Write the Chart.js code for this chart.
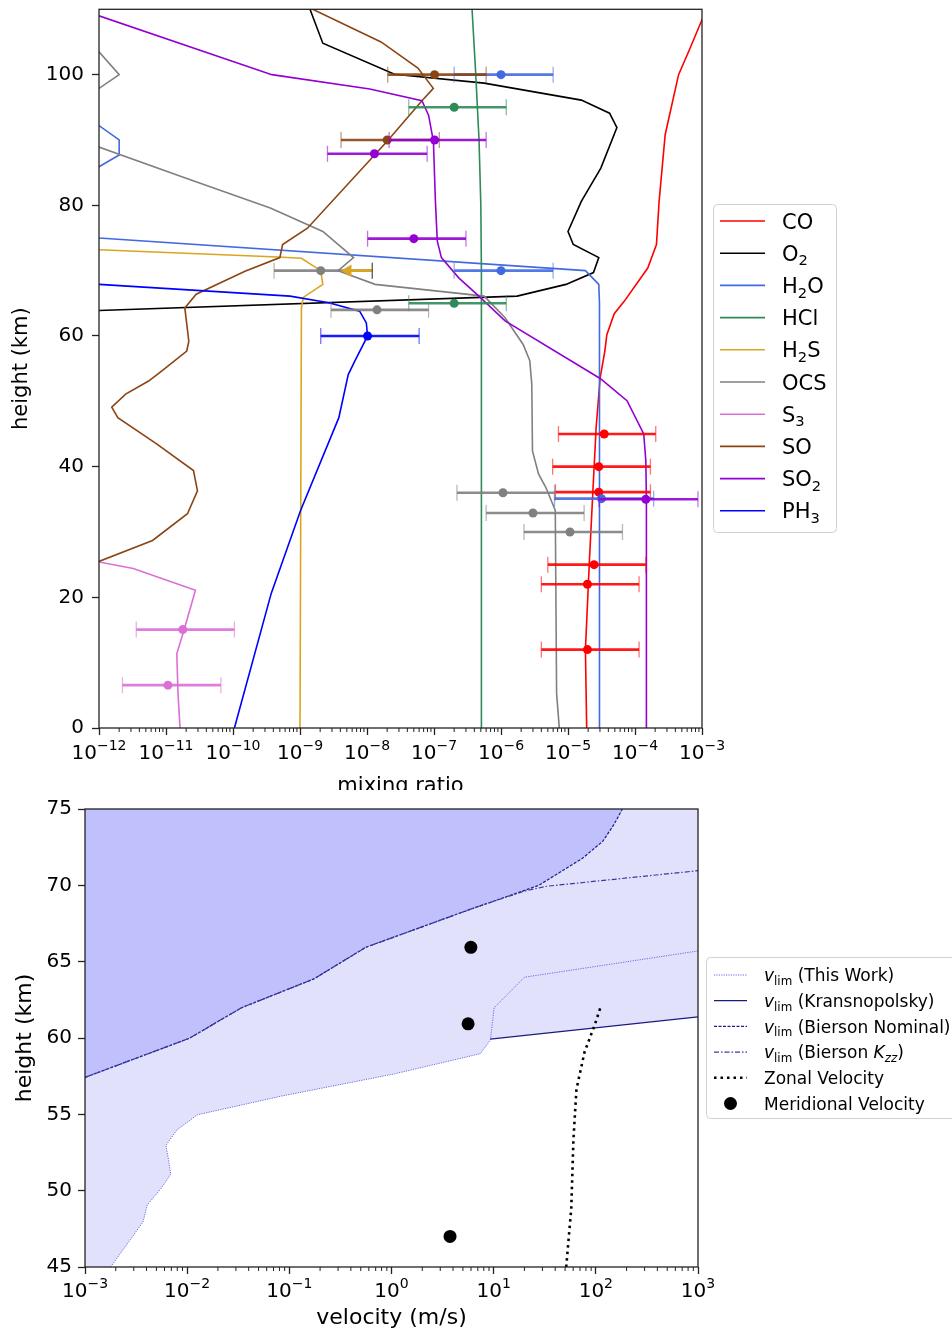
<!DOCTYPE html>
<html>
<head>
<meta charset="utf-8">
<script src="https://cdn.jsdelivr.net/npm/chart.js@4.4.0/dist/chart.umd.min.js"></script>
<style>
html, body { margin: 0; padding: 0; background: #fff; }
#top { position: absolute; left: 0; top: 0; width: 952px; height: 790px; }
#bot { position: absolute; left: 0; top: 790px; width: 952px; height: 543px; }
</style>
</head>
<body>
<div id="top"><canvas id="mixChart"></canvas></div>
<div id="bot"><canvas id="velChart"></canvas></div>
<script>
// ---------- panel 1: mixing ratio profiles ----------
var mixTickValues = [1e-12, 1e-11, 1e-10, 1e-9, 1e-8, 1e-7, 1e-6, 1e-5, 1e-4, 1e-3];
var mixTickExps = ['−12', '−11', '−10', '−9', '−8', '−7', '−6', '−5', '−4', '−3'];
var mixHeightTicks = [0, 20, 40, 60, 80, 100];

var coHeight = [0, 12, 25.7, 35.8, 46, 53.6, 57.7, 60.2, 63.4, 65.3, 70.4, 74, 80.6, 90.8, 100, 103.5, 108.4, 111];
var coMix = [1.9e-5, 1.82e-5, 2.09e-5, 2.34e-5, 2.63e-5, 3.02e-5, 3.55e-5, 3.8e-5, 4.9e-5, 6.9e-5, 1.55e-4, 2.09e-4, 2.29e-4, 2.82e-4, 4.47e-4, 6.3e-4, 1e-3, 1.3e-3];

var o2Height = [111, 110, 104.8, 100.05, 98.7, 96.1, 94.1, 91.9, 85.7, 80.6, 76, 74, 72, 69.7, 67.9, 66.1, 63.9, 63.7];
var o2Mix = [1.3e-9, 1.41e-9, 2.19e-9, 2.57e-8, 5.6e-7, 1.58e-5, 4.17e-5, 5.37e-5, 3.09e-5, 1.58e-5, 1e-5, 1.2e-5, 2.88e-5, 2.4e-5, 9.33e-6, 1.74e-6, 1e-12, 3e-13];

var h2oHeight = [97, 94, 92.2, 90, 87.7, 85.9, 84, 76, 75, 70, 67.9, 65, 0];
var h2oMix = [1e-13, 5e-13, 1e-12, 2e-12, 2e-12, 1e-12, 5e-13, 1e-13, 1e-12, 1.82e-5, 2.88e-5, 2.95e-5, 2.95e-5];

var hclHeight = [110, 100, 90, 80, 70, 0];
var hclMix = [3.7e-7, 4.2e-7, 4.7e-7, 5.0e-7, 5.1e-7, 5.1e-7];

var h2sHeight = [73.4, 73.2, 72.1, 71.9, 70, 67.9, 65.9, 64.3, 0];
var h2sMix = [3e-13, 1e-12, 4.7e-10, 1.05e-9, 2.04e-9, 2.19e-9, 1.12e-9, 1.05e-9, 1.0e-9];

var ocsHeight = [107, 103.5, 100, 97.9, 94.5, 94, 90, 88.9, 84.2, 79.6, 76, 72, 70, 67.9, 66.1, 62.8, 58.7, 56.2, 52.6, 42.4, 38.9, 36.8, 33.3, 5.3, 0];
var ocsMix = [5e-13, 1e-12, 2e-12, 1e-12, 5e-13, 1e-13, 1e-13, 1e-12, 1.9e-11, 3.6e-10, 2.19e-9, 6.3e-9, 3.7e-9, 1.32e-8, 5.6e-7, 1.15e-6, 2.14e-6, 2.69e-6, 2.88e-6, 2.95e-6, 3.63e-6, 4.68e-6, 6.46e-6, 6.76e-6, 7.41e-6];

var s3Height = [26.4, 25.4, 24.4, 21.1, 15, 11.4, 5.3, 0];
var s3Mix = [3e-13, 1e-12, 3.24e-12, 2.75e-11, 1.86e-11, 1.45e-11, 1.51e-11, 1.62e-11];

var soHeight = [110.5, 110, 105, 101, 97.9, 96, 89.8, 76.5, 74, 72, 69.9, 66.4, 64.3, 59.2, 57.7, 54.6, 53.1, 51.1, 49.1, 47.5, 43.5, 39.4, 36.3, 32.8, 28.7, 25.5, 25.1];
var soMix = [1.35e-9, 1.55e-9, 1.62e-8, 5.75e-8, 9.77e-8, 6.61e-8, 2.0e-8, 1.29e-9, 5.5e-10, 5.0e-10, 1.51e-10, 2.82e-11, 1.91e-11, 2.19e-11, 2.04e-11, 8.5e-12, 5.5e-12, 2.5e-12, 1.55e-12, 1.91e-12, 7.24e-12, 2.57e-11, 2.95e-11, 2.09e-11, 6.3e-12, 1e-12, 4e-13];

var so2Height = [110.7, 109, 100, 97.8, 96, 93.8, 89.8, 80.6, 74.5, 72, 68.9, 65.9, 62.3, 53.5, 50.1, 45, 40.9, 35, 0];
var so2Mix = [3e-13, 1e-12, 3.8e-10, 1.1e-8, 6.6e-8, 8.3e-8, 9.8e-8, 1.05e-7, 1.12e-7, 1.29e-7, 2.34e-7, 4.9e-7, 1.15e-6, 3.02e-5, 7.6e-5, 1.35e-4, 1.45e-4, 1.48e-4, 1.48e-4];

var ph3Height = [68.2, 67.9, 66.1, 65.1, 63.8, 62, 60, 56.2, 54.1, 47.5, 33.3, 20.6, 0];
var ph3Mix = [3e-13, 1e-12, 7.1e-10, 2.69e-9, 7.76e-9, 9.77e-9, 1.02e-8, 6.6e-9, 5.25e-9, 3.8e-9, 1.02e-9, 3.72e-10, 1.05e-10];

// observations: centre, lower and upper end of each bar
var coObsHeight = [45, 40, 36.1, 25, 22, 12];
var coObsMix = [3.47e-5, 2.88e-5, 2.88e-5, 2.45e-5, 1.95e-5, 1.95e-5];
var coObsLow = [7.2e-6, 5.9e-6, 6.5e-6, 5.0e-6, 4.0e-6, 4.0e-6];
var coObsHigh = [2.04e-4, 1.7e-4, 1.7e-4, 1.45e-4, 1.15e-4, 1.15e-4];

var h2oObsHeight = [100, 70, 35.1];
var h2oObsMix = [1e-6, 1e-6, 3.16e-5];
var h2oObsLow = [2.0e-7, 2.0e-7, 6.3e-6];
var h2oObsHigh = [6.0e-6, 6.0e-6, 1.9e-4];

var hclObsHeight = [95, 65];
var hclObsMix = [2.0e-7, 2.0e-7];
var hclObsLow = [4.2e-8, 4.2e-8];
var hclObsHigh = [1.2e-6, 1.2e-6];

var ocsObsHeight = [70, 64, 36, 32.9, 30];
var ocsObsMix = [2.04e-9, 1.41e-8, 1.07e-6, 3.0e-6, 1.07e-5];
var ocsObsLow = [4.1e-10, 2.9e-9, 2.2e-7, 6.0e-7, 2.2e-6];
var ocsObsHigh = [1.2e-8, 8.3e-8, 6.3e-6, 1.74e-5, 6.5e-5];

var s3ObsHeight = [15.06, 6.56];
var s3ObsMix = [1.78e-11, 1.07e-11];
var s3ObsLow = [3.6e-12, 2.24e-12];
var s3ObsHigh = [1.05e-10, 6.6e-11];

var soObsHeight = [100, 90];
var soObsMix = [1.02e-7, 2.0e-8];
var soObsLow = [2.04e-8, 4.1e-9];
var soObsHigh = [6.0e-7, 1.2e-7];

var so2ObsHeight = [90, 87.9, 74.9, 35];
var so2ObsMix = [1.02e-7, 1.29e-8, 5.0e-8, 1.45e-4];
var so2ObsLow = [2.14e-8, 2.57e-9, 1.02e-8, 2.9e-5];
var so2ObsHigh = [6.0e-7, 7.9e-8, 3.0e-7, 8.7e-4];

var ph3ObsHeight = [60];
var ph3ObsMix = [1.02e-8];
var ph3ObsLow = [2.04e-9];
var ph3ObsHigh = [6.0e-8];

// H2S upper limit (arrow)
var h2sLimitHeight = [70];
var h2sLimitFrom = [1.2e-8];
var h2sLimitTo = [5.2e-9];

// ---------- panel 2: velocities ----------
var velTickValues = [1e-3, 1e-2, 1e-1, 1e0, 1e1, 1e2, 1e3];
var velTickExps = ['−3', '−2', '−1', '0', '1', '2', '3'];
var velHeightTicks = [45, 50, 55, 60, 65, 70, 75];

var thisWorkVel = [1.78e-3, 3.7e-3, 4.07e-3, 5.6e-3, 6.9e-3, 6.6e-3, 6.2e-3, 7.9e-3, 0.0126, 0.083, 1.05, 7.4, 9.3, 10.1, 20, 1000];
var thisWorkHt = [45, 47.96, 49.07, 50.18, 51.07, 51.96, 52.97, 53.97, 54.97, 56.19, 57.64, 58.97, 59.87, 61.98, 63.98, 65.7];

var krasVel = [9.25, 1000];
var krasHt = [59.93, 61.38];

var nominalVel = [1e-3, 0.0105, 0.034, 0.174, 0.56, 6.2, 27.5, 74, 117, 151, 182];
var nominalHt = [57.42, 59.98, 61.98, 63.87, 65.94, 68.48, 69.99, 71.77, 72.89, 74.0, 75];

var kzzVel = [1e-3, 0.0105, 0.034, 0.174, 0.56, 6.2, 19.5, 33, 1000];
var kzzHt = [57.42, 59.98, 61.98, 63.87, 65.94, 68.48, 69.6, 69.94, 70.96];

var zonalVel = [51.3, 57.5, 60.3, 64.6, 77.6, 97.7, 112];
var zonalHt = [45, 48.85, 53.3, 56.64, 59.09, 60.87, 62.09];

var meridVel = [5.98, 5.62, 3.74];
var meridHt = [65.94, 60.93, 47.0];

Chart.defaults.font.family = '"DejaVu Sans", sans-serif';
Chart.defaults.color = '#000';

function pts(h, v) {
    return h.map(function(y, i) { return {x: v[i], y: y}; });
}

function barPts(h, lo, hi) {
    var d = [];
    h.forEach(function(y, i) {
        d.push({x: lo[i], y: y}, {x: hi[i], y: y}, {x: NaN, y: NaN});
    });
    return d;
}

function fade(hex, a) {
    var n = parseInt(hex.slice(1), 16);
    return 'rgba(' + (n >> 16) + ',' + ((n >> 8) & 255) + ',' + (n & 255) + ',' + a + ')';
}

function styleFont(style, size) {
    var small = style.indexOf('sub') >= 0 || style === 'sup';
    return (style.charAt(0) === 'i' ? 'italic ' : '') + (small ? size * 0.7 : size) + 'px "DejaVu Sans"';
}

// text with sub/superscript pieces, y is the baseline
function drawRich(ctx, parts, x, y, size, align) {
    var w = 0;
    parts.forEach(function(p) { ctx.font = styleFont(p[1], size); w += ctx.measureText(p[0]).width; });
    var cx = align === 'center' ? x - w / 2 : x;
    ctx.textAlign = 'left';
    ctx.textBaseline = 'alphabetic';
    parts.forEach(function(p) {
        ctx.font = styleFont(p[1], size);
        var dy = p[1].indexOf('sub') >= 0 ? 0.22 * size : (p[1] === 'sup' ? -0.45 * size : 0);
        ctx.fillText(p[0], cx, y + dy);
        cx += ctx.measureText(p[0]).width;
    });
}

function roundRect(ctx, x, y, w, h, r) {
    ctx.beginPath();
    ctx.moveTo(x + r, y);
    ctx.arcTo(x + w, y, x + w, y + h, r);
    ctx.arcTo(x + w, y + h, x, y + h, r);
    ctx.arcTo(x, y + h, x, y, r);
    ctx.arcTo(x, y, x + w, y, r);
    ctx.closePath();
}

// y axis: fixed width and no extra label room above/below the plot
function fixY(width) {
    return function(s) { s.width = width; s.paddingTop = 0; s.paddingBottom = 0; };
}

// spines, minor ticks, x labels with exponents and the framed legend
var framePlugin = {
    id: 'frame',
    afterDraw: function(chart, args, o) {
        var ctx = chart.ctx, a = chart.chartArea, xs = chart.scales.x;
        ctx.save();
        ctx.strokeStyle = '#222';
        ctx.lineWidth = 1;
        var d0 = Math.round(Math.log10(xs.min)), d1 = Math.round(Math.log10(xs.max));
        for (var d = d0; d < d1; d++) {
            for (var k = 2; k < 10; k++) {
                var px = xs.getPixelForValue(k * Math.pow(10, d));
                ctx.beginPath();
                ctx.moveTo(px, a.bottom);
                ctx.lineTo(px, a.bottom + 4);
                ctx.stroke();
            }
        }
        ctx.lineWidth = 1.3;
        ctx.strokeRect(a.left, a.top, a.right - a.left, a.bottom - a.top);

        ctx.fillStyle = '#000';
        o.tickValues.forEach(function(v, i) {
            drawRich(ctx, [['10', ''], [o.tickExps[i], 'sup']], xs.getPixelForValue(v), a.bottom + o.labelOffset, o.labelSize, 'center');
        });

        var L = o.legend;
        roundRect(ctx, L.x + 0.5, L.y + 0.5, L.w, L.h, 4);
        ctx.fillStyle = 'rgba(255,255,255,0.85)';
        ctx.fill();
        ctx.strokeStyle = '#d0d0d0';
        ctx.lineWidth = 1;
        ctx.stroke();
        var row = 0;
        chart.data.datasets.forEach(function(ds) {
            if (!ds.legendParts) return;
            var cy = L.row0 + row * L.step;
            if (ds.showLine === false) {
                ctx.beginPath();
                ctx.arc((L.x0 + L.x1) / 2, cy, ds.pointRadius, 0, Math.PI * 2);
                ctx.fillStyle = ds.pointBackgroundColor;
                ctx.fill();
            } else {
                ctx.beginPath();
                ctx.setLineDash(ds.borderDash || []);
                ctx.strokeStyle = ds.borderColor;
                ctx.lineWidth = ds.borderWidth;
                ctx.moveTo(L.x0, cy);
                ctx.lineTo(L.x1, cy);
                ctx.stroke();
                ctx.setLineDash([]);
            }
            ctx.fillStyle = '#000';
            drawRich(ctx, ds.legendParts, L.tx, cy + 0.36 * L.size, L.size, 'left');
            row++;
        });
        ctx.restore();
    }
};

// ---------- build panel 1 ----------
var species = [
    {parts: [['CO', '']], color: '#ff0000', h: coHeight, v: coMix},
    {parts: [['O', ''], ['2', 'sub']], color: '#000000', h: o2Height, v: o2Mix},
    {parts: [['H', ''], ['2', 'sub'], ['O', '']], color: '#4169e1', h: h2oHeight, v: h2oMix},
    {parts: [['HCl', '']], color: '#2e8b57', h: hclHeight, v: hclMix},
    {parts: [['H', ''], ['2', 'sub'], ['S', '']], color: '#daa520', h: h2sHeight, v: h2sMix},
    {parts: [['OCS', '']], color: '#808080', h: ocsHeight, v: ocsMix},
    {parts: [['S', ''], ['3', 'sub']], color: '#da70d6', h: s3Height, v: s3Mix},
    {parts: [['SO', '']], color: '#8b4513', h: soHeight, v: soMix},
    {parts: [['SO', ''], ['2', 'sub']], color: '#9400d3', h: so2Height, v: so2Mix},
    {parts: [['PH', ''], ['3', 'sub']], color: '#0000ff', h: ph3Height, v: ph3Mix}
];

var observations = [
    {color: '#ff0000', h: coObsHeight, c: coObsMix, lo: coObsLow, hi: coObsHigh},
    {color: '#4169e1', h: h2oObsHeight, c: h2oObsMix, lo: h2oObsLow, hi: h2oObsHigh},
    {color: '#2e8b57', h: hclObsHeight, c: hclObsMix, lo: hclObsLow, hi: hclObsHigh},
    {color: '#808080', h: ocsObsHeight, c: ocsObsMix, lo: ocsObsLow, hi: ocsObsHigh},
    {color: '#da70d6', h: s3ObsHeight, c: s3ObsMix, lo: s3ObsLow, hi: s3ObsHigh},
    {color: '#8b4513', h: soObsHeight, c: soObsMix, lo: soObsLow, hi: soObsHigh},
    {color: '#9400d3', h: so2ObsHeight, c: so2ObsMix, lo: so2ObsLow, hi: so2ObsHigh},
    {color: '#0000ff', h: ph3ObsHeight, c: ph3ObsMix, lo: ph3ObsLow, hi: ph3ObsHigh}
];

var mixSets = [];
species.forEach(function(s) {
    mixSets.push({
        data: pts(s.h, s.v), showLine: true, borderColor: s.color, borderWidth: 1.6,
        pointRadius: 0, legendParts: s.parts
    });
});
observations.forEach(function(ob) {
    mixSets.push({
        data: barPts(ob.h, ob.lo, ob.hi), showLine: true, borderColor: fade(ob.color, 0.9), borderWidth: 2.6,
        pointStyle: 'line', pointRotation: 90, pointRadius: 8,
        pointBorderColor: fade(ob.color, 0.55), pointBorderWidth: 1.3
    });
    mixSets.push({
        data: pts(ob.h, ob.c), showLine: false, pointRadius: 4.5,
        pointBackgroundColor: ob.color, pointBorderWidth: 0
    });
});
mixSets.push({
    data: pts(h2sLimitHeight, h2sLimitFrom).concat(pts(h2sLimitHeight, h2sLimitTo)),
    showLine: true, borderColor: '#daa520', borderWidth: 2.6,
    pointStyle: ['line', 'triangle'], pointRotation: [90, -90], pointRadius: [8, 7],
    pointBackgroundColor: '#daa520', pointBorderColor: ['rgba(60,60,60,0.7)', '#daa520'], pointBorderWidth: [1.3, 0]
});
mixSets.forEach(function(ds, i) { ds.order = -i; });

new Chart(document.getElementById('mixChart'), {
    type: 'scatter',
    data: {datasets: mixSets},
    options: {
        responsive: true, maintainAspectRatio: false, animation: false, events: [],
        layout: {padding: {top: 7.5, right: 250, bottom: 0, left: 0}},
        plugins: {
            legend: {display: false}, tooltip: {enabled: false},
            frame: {
                tickValues: mixTickValues, tickExps: mixTickExps, labelOffset: 31, labelSize: 20,
                legend: {x: 713, y: 204, w: 123, h: 328, row0: 221, step: 32.2, x0: 720, x1: 765, tx: 782, size: 21}
            }
        },
        scales: {
            x: {
                type: 'logarithmic', min: 1e-12, max: 1e-3,
                afterBuildTicks: function(s) { s.ticks = mixTickValues.map(function(v) { return {value: v}; }); },
                afterFit: function(s) { s.height = 62; },
                ticks: {display: false},
                grid: {drawOnChartArea: false, tickLength: 7, tickColor: '#222', tickWidth: 1.3},
                border: {display: false},
                title: {display: true, text: 'mixing ratio', font: {size: 21}, padding: {top: 0, bottom: -9}}
            },
            y: {
                type: 'linear', min: 0, max: 110,
                afterBuildTicks: function(s) { s.ticks = mixHeightTicks.map(function(v) { return {value: v}; }); },
                afterFit: fixY(99),
                ticks: {font: {size: 20}, padding: 8, autoSkip: false},
                grid: {drawOnChartArea: false, tickLength: 7, tickColor: '#222', tickWidth: 1.3},
                border: {display: false},
                title: {display: true, text: 'height (km)', font: {size: 21}, padding: {top: 9, bottom: 0}}
            }
        }
    },
    plugins: [framePlugin]
});

// ---------- build panel 2 ----------
var velMin = 1e-3;
var cut = thisWorkHt.findIndex(function(h) { return h > krasHt[0]; });
var lowerEdge = [{x: velMin, y: thisWorkHt[0]}]
    .concat(pts(thisWorkHt.slice(0, cut), thisWorkVel.slice(0, cut)))
    .concat(pts(krasHt, krasVel));

var velSets = [
    {data: lowerEdge, showLine: true, borderWidth: 0, pointRadius: 0, fill: 'end', backgroundColor: '#e1e1fb'},
    {data: pts(nominalHt, nominalVel), showLine: true, borderWidth: 0, pointRadius: 0, fill: 'end', backgroundColor: '#c0c0fc'},
    {data: pts(thisWorkHt, thisWorkVel), showLine: true, borderColor: '#6a6ae6', borderWidth: 1, borderDash: [1.2, 1.2],
        pointRadius: 0, legendParts: [['v', 'i'], ['lim', 'sub'], [' (This Work)', '']]},
    {data: pts(krasHt, krasVel), showLine: true, borderColor: '#1b1b80', borderWidth: 1.3,
        pointRadius: 0, legendParts: [['v', 'i'], ['lim', 'sub'], [' (Kransnopolsky)', '']]},
    {data: pts(nominalHt, nominalVel), showLine: true, borderColor: '#1c1c8c', borderWidth: 1.2, borderDash: [3, 1.5],
        pointRadius: 0, legendParts: [['v', 'i'], ['lim', 'sub'], [' (Bierson Nominal)', '']]},
    {data: pts(kzzHt, kzzVel), showLine: true, borderColor: '#3a3a9e', borderWidth: 1.2, borderDash: [5, 2, 1.5, 2],
        pointRadius: 0, legendParts: [['v', 'i'], ['lim', 'sub'], [' (Bierson ', ''], ['K', 'i'], ['zz', 'isub'], [')', '']]},
    {data: pts(zonalHt, zonalVel), showLine: true, borderColor: '#000', borderWidth: 2.6, borderDash: [2.5, 4],
        pointRadius: 0, legendParts: [['Zonal Velocity', '']]},
    {data: pts(meridHt, meridVel), showLine: false, pointRadius: 6.5, pointBackgroundColor: '#000', pointBorderWidth: 0,
        legendParts: [['Meridional Velocity', '']]}
];
velSets.forEach(function(ds, i) { ds.order = -i; });

new Chart(document.getElementById('velChart'), {
    type: 'scatter',
    data: {datasets: velSets},
    options: {
        responsive: true, maintainAspectRatio: false, animation: false, events: [],
        layout: {padding: {top: 19, right: 254, bottom: 0, left: 0}},
        plugins: {
            legend: {display: false}, tooltip: {enabled: false},
            frame: {
                tickValues: velTickValues, tickExps: velTickExps, labelOffset: 30, labelSize: 20,
                legend: {x: 706, y: 167, w: 262, h: 161, row0: 185, step: 25.7, x0: 714, x1: 747, tx: 764, size: 17}
            }
        },
        scales: {
            x: {
                type: 'logarithmic', min: velMin, max: 1e3,
                afterBuildTicks: function(s) { s.ticks = velTickValues.map(function(v) { return {value: v}; }); },
                afterFit: function(s) { s.height = 66; },
                ticks: {display: false},
                grid: {drawOnChartArea: false, tickLength: 7, tickColor: '#222', tickWidth: 1.3},
                border: {display: false},
                title: {display: true, text: 'velocity (m/s)', font: {size: 22}, padding: {top: 0, bottom: 2}}
            },
            y: {
                type: 'linear', min: 45, max: 75,
                afterBuildTicks: function(s) { s.ticks = velHeightTicks.map(function(v) { return {value: v}; }); },
                afterFit: fixY(85),
                ticks: {font: {size: 20}, padding: 6, autoSkip: false},
                grid: {drawOnChartArea: false, tickLength: 7, tickColor: '#222', tickWidth: 1.3},
                border: {display: false},
                title: {display: true, text: 'height (km)', font: {size: 22}, padding: {top: 12, bottom: 0}}
            }
        }
    },
    plugins: [framePlugin]
});
</script>
</body>
</html>
